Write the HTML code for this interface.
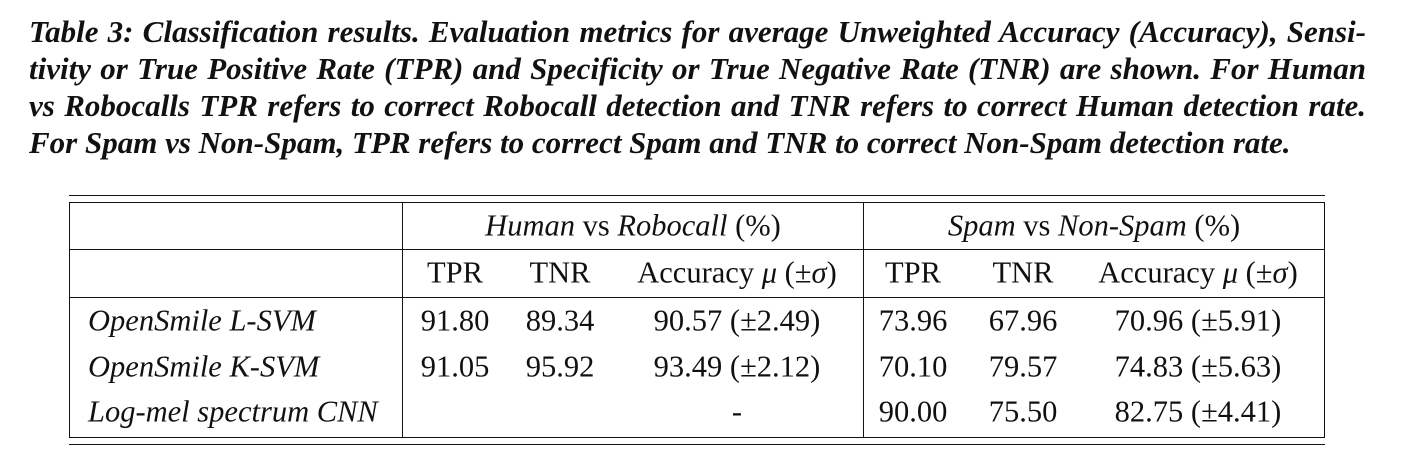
<!DOCTYPE html>
<html><head><meta charset="utf-8"><style>
body{margin:0;width:1414px;height:471px;background:#fff;position:relative;overflow:hidden;font-family:"Liberation Serif",serif;color:#111}
.cap{position:absolute;left:29px;width:1337px;font-weight:bold;font-style:italic;font-size:31px;line-height:37px;white-space:nowrap}
.j{text-align:justify;text-align-last:justify}
.l{position:absolute;background:#111}
.t{position:absolute;font-size:30.5px;white-space:nowrap;transform:translate(-50%,-50%)}
.r{position:absolute;font-size:30.5px;font-style:italic;white-space:nowrap;left:88px;transform:translateY(-50%)}
i{font-style:italic}
</style></head><body>
<div class="cap j" style="top:13px">Table 3: Classification results. Evaluation metrics for average Unweighted Accuracy (Accuracy), Sensi-</div>
<div class="cap j" style="top:50px">tivity or True Positive Rate (TPR) and Specificity or True Negative Rate (TNR) are shown. For Human</div>
<div class="cap j" style="top:87px">vs Robocalls TPR refers to correct Robocall detection and TNR refers to correct Human detection rate.</div>
<div class="cap" style="top:124px">For Spam vs Non-Spam, TPR refers to correct Spam and TNR to correct Non-Spam detection rate.</div>

<div class="l" style="left:69px;top:195px;width:1256px;height:1px"></div>
<div class="l" style="left:69px;top:202px;width:1256px;height:1px"></div>
<div class="l" style="left:69px;top:249px;width:1256px;height:1px"></div>
<div class="l" style="left:69px;top:297px;width:1256px;height:1px"></div>
<div class="l" style="left:69px;top:437px;width:1256px;height:1px"></div>
<div class="l" style="left:69px;top:444px;width:1256px;height:1px"></div>
<div class="l" style="left:69px;top:202px;width:1px;height:236px"></div>
<div class="l" style="left:402px;top:202px;width:1px;height:236px"></div>
<div class="l" style="left:863px;top:202px;width:1px;height:236px"></div>
<div class="l" style="left:1324px;top:202px;width:1px;height:236px"></div>

<div class="t" style="left:633px;top:226px"><i>Human</i> vs <i>Robocall</i> (%)</div>
<div class="t" style="left:1094px;top:226px"><i>Spam</i> vs <i>Non-Spam</i> (%)</div>

<div class="t" style="left:455px;top:273px">TPR</div>
<div class="t" style="left:560px;top:273px">TNR</div>
<div class="t" style="left:737px;top:273px">Accuracy <i>μ</i> (±<i>σ</i>)</div>
<div class="t" style="left:913px;top:273px">TPR</div>
<div class="t" style="left:1023px;top:273px">TNR</div>
<div class="t" style="left:1198px;top:273px">Accuracy <i>μ</i> (±<i>σ</i>)</div>

<div class="r" style="top:321px">OpenSmile L-SVM</div>
<div class="r" style="top:367px">OpenSmile K-SVM</div>
<div class="r" style="top:412px">Log-mel spectrum CNN</div>

<div class="t" style="left:455px;top:321px">91.80</div>
<div class="t" style="left:560px;top:321px">89.34</div>
<div class="t" style="left:737px;top:321px">90.57 (±2.49)</div>
<div class="t" style="left:913px;top:321px">73.96</div>
<div class="t" style="left:1023px;top:321px">67.96</div>
<div class="t" style="left:1198px;top:321px">70.96 (±5.91)</div>

<div class="t" style="left:455px;top:367px">91.05</div>
<div class="t" style="left:560px;top:367px">95.92</div>
<div class="t" style="left:737px;top:367px">93.49 (±2.12)</div>
<div class="t" style="left:913px;top:367px">70.10</div>
<div class="t" style="left:1023px;top:367px">79.57</div>
<div class="t" style="left:1198px;top:367px">74.83 (±5.63)</div>

<div class="t" style="left:737px;top:412px">-</div>
<div class="t" style="left:913px;top:412px">90.00</div>
<div class="t" style="left:1023px;top:412px">75.50</div>
<div class="t" style="left:1198px;top:412px">82.75 (±4.41)</div>
</body></html>
